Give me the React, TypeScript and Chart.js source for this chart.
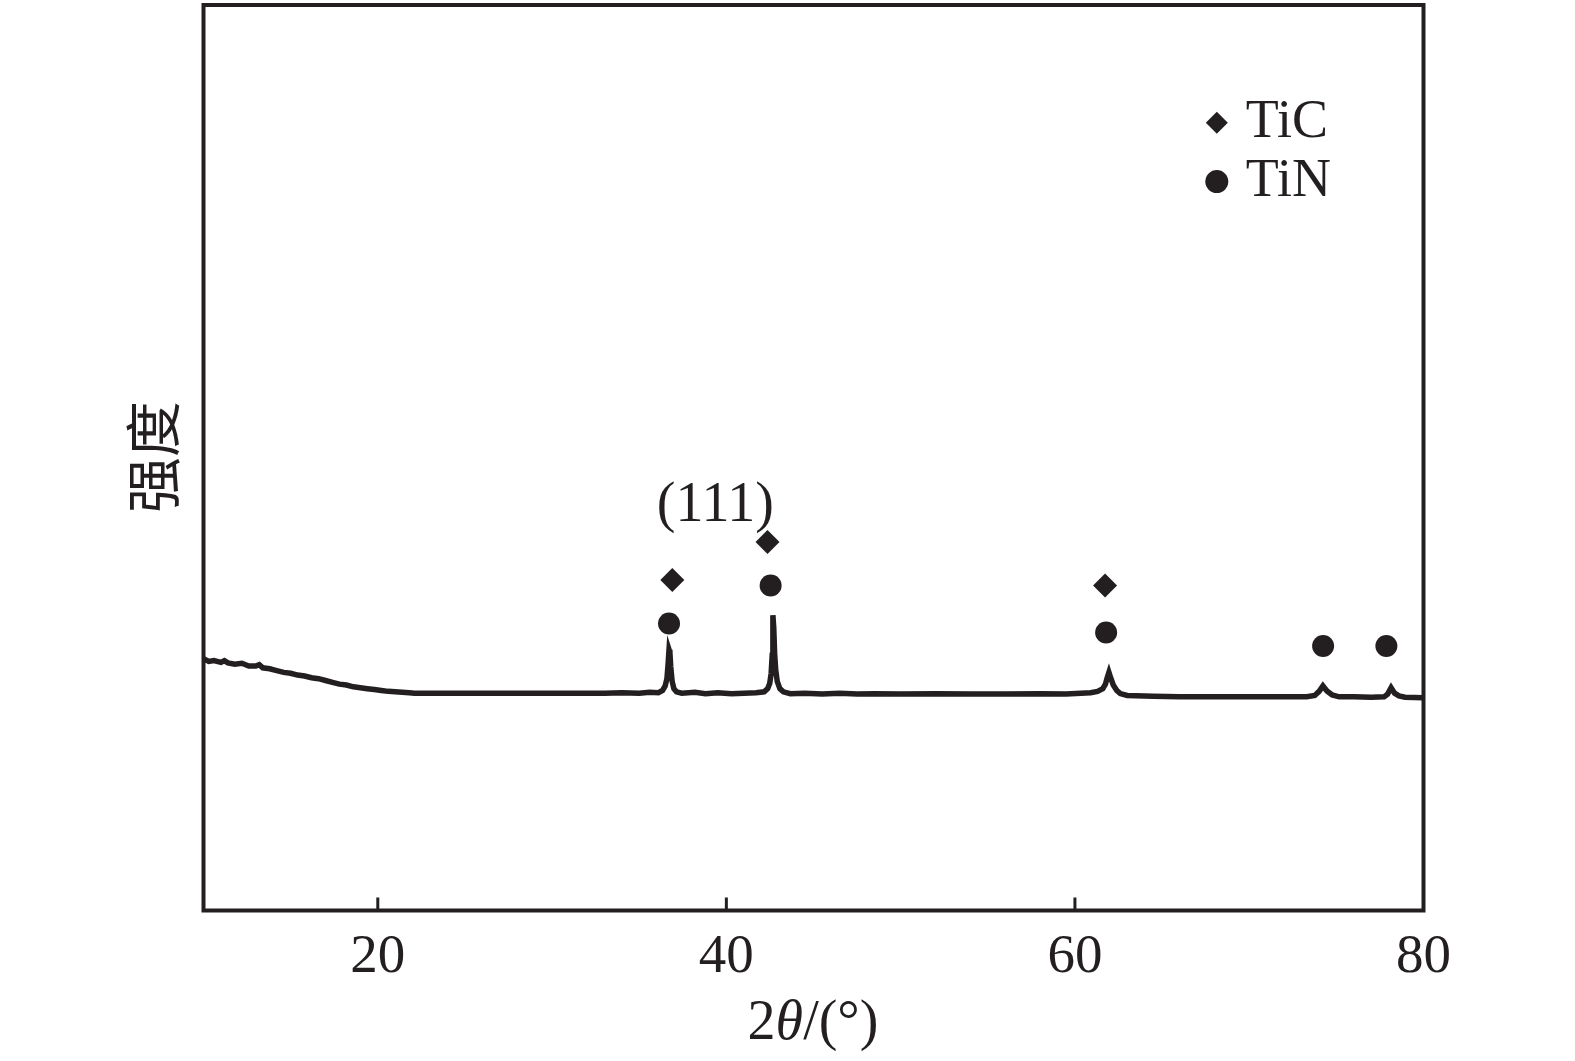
import React, { useEffect, useRef } from 'react';
import { Chart, registerables } from 'chart.js';

Chart.register(...registerables);

// XRD pattern, 2θ (degrees) vs intensity (arbitrary units)
const twoTheta = [
    10.0, 10.3, 10.6, 11.0, 11.2, 11.4, 11.8, 12.2, 12.6, 13.0, 13.2, 13.4, 13.8, 14.2, 14.6, 15.0,
    15.4, 15.8, 16.2, 16.6, 17.0, 17.4, 17.8, 18.2, 18.6, 19.0, 19.4, 19.8, 20.2, 20.6, 21.0, 21.4,
    21.8, 22.1, 24.0, 27.0, 30.0, 33.0, 34.0, 35.0, 35.6, 36.1, 36.34, 36.49, 36.59, 36.66, 36.71,
    36.76, 36.81, 36.89, 36.99, 37.14, 37.44, 38.2, 38.8, 39.5, 40.3, 41.0, 41.7, 42.17, 42.37,
    42.49, 42.57, 42.63, 42.67, 42.72, 42.77, 42.83, 42.92, 43.07, 43.27, 43.67, 44.5, 45.5, 46.5,
    47.5, 48.5, 50.0, 52.0, 54.0, 56.0, 58.0, 59.5, 60.9, 61.3, 61.6, 61.75, 61.85, 61.95, 62.05,
    62.2, 62.4, 62.6, 63.0, 64.5, 66.0, 68.0, 70.0, 72.0, 73.3, 73.76, 74.01, 74.23, 74.46, 74.76,
    75.16, 76.0, 77.0, 77.74, 77.94, 78.14, 78.34, 78.59, 78.94, 80.0,
];
const intensity = [
    27.8, 27.5, 27.6, 27.4, 27.6, 27.35, 27.2, 27.3, 27.0, 27.0, 27.15, 26.8, 26.7, 26.5, 26.3, 26.2,
    26.0, 25.9, 25.7, 25.6, 25.4, 25.2, 25.0, 24.9, 24.7, 24.6, 24.5, 24.4, 24.3, 24.2, 24.15, 24.1,
    24.05, 24.0, 24.0, 24.0, 24.0, 24.0, 24.05, 24.0, 24.1, 24.05, 24.3, 24.8, 25.6, 27.3, 28.8,
    28.5, 26.9, 25.3, 24.5, 24.15, 24.0, 24.1, 23.95, 24.05, 23.95, 24.0, 24.05, 24.15, 24.5,
    25.1, 26.2, 28.2, 32.6, 31.2, 28.4, 26.6, 25.3, 24.5, 24.15, 23.95, 24.0, 23.9, 24.0, 23.9,
    23.95, 23.9, 23.95, 23.9, 23.9, 23.95, 23.9, 24.05, 24.2, 24.5, 25.0, 25.7, 26.3, 25.7,
    24.9, 24.3, 23.95, 23.75, 23.65, 23.6, 23.6, 23.6, 23.6, 23.6, 23.75, 24.2, 24.8, 24.25, 23.8,
    23.6, 23.6, 23.55, 23.6, 23.9, 24.6, 24.0, 23.7, 23.55, 23.5,
];

// phase markers above the peaks
const ticMarkX = [36.9, 42.36, 61.73];
const ticMarkY = [36.5, 40.7, 35.9];
const tinMarkX = [36.71, 42.54, 61.79, 74.24, 77.87];
const tinMarkY = [31.7, 35.9, 30.7, 29.2, 29.2];

const xTicks = [20, 40, 60, 80];
const legendLabels = ['TiC', 'TiN'];

const INK = '#231f20';
const SERIF = '"Liberation Serif", "Times New Roman", serif';

const framePlugin = {
    id: 'frame',
    afterDraw(chart: any) {
        const { ctx, chartArea: a, scales } = chart;
        const x = scales.x;
        const y = scales.y;
        ctx.save();
        ctx.strokeStyle = INK;
        ctx.lineWidth = 4;
        ctx.strokeRect(a.left, a.top, a.right - a.left, a.bottom - a.top);
        // inward ticks on the bottom axis
        ctx.lineWidth = 3;
        xTicks.forEach((v) => {
            const px = x.getPixelForValue(v);
            ctx.beginPath();
            ctx.moveTo(px, a.bottom);
            ctx.lineTo(px, a.bottom - 13);
            ctx.stroke();
        });

        ctx.fillStyle = INK;
        // peak label
        ctx.font = `56px ${SERIF}`;
        ctx.textAlign = 'center';
        ctx.textBaseline = 'middle';
        ctx.fillText('(111)', x.getPixelForValue(39.37), y.getPixelForValue(44.6));

        // legend
        const lx = x.getPixelForValue(68.14);
        const ly1 = y.getPixelForValue(87.0);
        const ly2 = y.getPixelForValue(80.5);
        ctx.beginPath();
        ctx.moveTo(lx, ly1 - 11);
        ctx.lineTo(lx + 11, ly1);
        ctx.lineTo(lx, ly1 + 11);
        ctx.lineTo(lx - 11, ly1);
        ctx.closePath();
        ctx.fill();
        ctx.beginPath();
        ctx.arc(lx, ly2, 11.5, 0, Math.PI * 2);
        ctx.fill();
        ctx.textAlign = 'left';
        ctx.font = `54px ${SERIF}`;
        ctx.fillText(legendLabels[0], lx + 29, ly1);
        ctx.fillText(legendLabels[1], lx + 29, ly2);

        // x axis title: 2θ/(°)
        const parts = [
            { t: '2', f: `56px ${SERIF}` },
            { t: 'θ', f: `italic 56px ${SERIF}` },
            { t: '/(°)', f: `56px ${SERIF}` },
        ];
        let total = 0;
        parts.forEach((p) => {
            ctx.font = p.f;
            total += ctx.measureText(p.t).width;
        });
        let cx = 813 - total / 2;
        parts.forEach((p) => {
            ctx.font = p.f;
            ctx.fillText(p.t, cx, 1024);
            cx += ctx.measureText(p.t).width;
        });

        // y axis title
        ctx.translate(153, 457);
        ctx.rotate(-Math.PI / 2);
        ctx.textAlign = 'center';
        ctx.font = '56px "Noto Sans CJK SC", sans-serif';
        ctx.fillText('强度', 0, 0);
        ctx.restore();
    },
};

const App: React.FC = () => {
    const canvasRef = useRef<HTMLCanvasElement>(null);
    const chartInstance = useRef<Chart | null>(null);

    useEffect(() => {
        if (!canvasRef.current) return;
        if (chartInstance.current) chartInstance.current.destroy();

        chartInstance.current = new Chart(canvasRef.current, {
            type: 'line',
            data: {
                datasets: [
                    {
                        label: 'XRD',
                        data: twoTheta.map((v, i) => ({ x: v, y: intensity[i] })),
                        borderColor: INK,
                        borderWidth: 5.5,
                        pointRadius: 0,
                        tension: 0,
                        fill: false,
                    },
                    {
                        label: 'TiC',
                        type: 'scatter',
                        data: ticMarkX.map((v, i) => ({ x: v, y: ticMarkY[i] })),
                        pointStyle: 'rectRot',
                        pointRadius: 12,
                        backgroundColor: INK,
                        borderColor: INK,
                        borderWidth: 0,
                    },
                    {
                        label: 'TiN',
                        type: 'scatter',
                        data: tinMarkX.map((v, i) => ({ x: v, y: tinMarkY[i] })),
                        pointStyle: 'circle',
                        pointRadius: 11,
                        backgroundColor: INK,
                        borderColor: INK,
                        borderWidth: 0,
                    },
                ],
            },
            options: {
                animation: false,
                responsive: false,
                maintainAspectRatio: false,
                layout: { autoPadding: false, padding: { left: 203.5, right: 151.5, top: 5, bottom: 0 } },
                plugins: {
                    legend: { display: false },
                    tooltip: { enabled: false },
                },
                scales: {
                    x: {
                        type: 'linear',
                        min: 10,
                        max: 80,
                        grid: { display: false },
                        border: { display: false },
                        afterBuildTicks: (scale: any) => {
                            scale.ticks = xTicks.map((v) => ({ value: v }));
                        },
                        afterFit: (scale: any) => {
                            scale.height = 150.5;
                        },
                        ticks: {
                            color: INK,
                            padding: 6,
                            maxRotation: 0,
                            font: { family: SERIF, size: 55 },
                        },
                    },
                    y: {
                        type: 'linear',
                        min: 0,
                        max: 100,
                        display: false,
                    },
                },
            },
            plugins: [framePlugin],
        });

        return () => {
            if (chartInstance.current) {
                chartInstance.current.destroy();
                chartInstance.current = null;
            }
        };
    }, []);

    return (
        <div style={{ position: 'fixed', left: 0, top: 0, width: 1575, height: 1061, background: '#fff' }}>
            <canvas ref={canvasRef} width={1575} height={1061} style={{ width: 1575, height: 1061 }} />
        </div>
    );
};

export default App;
